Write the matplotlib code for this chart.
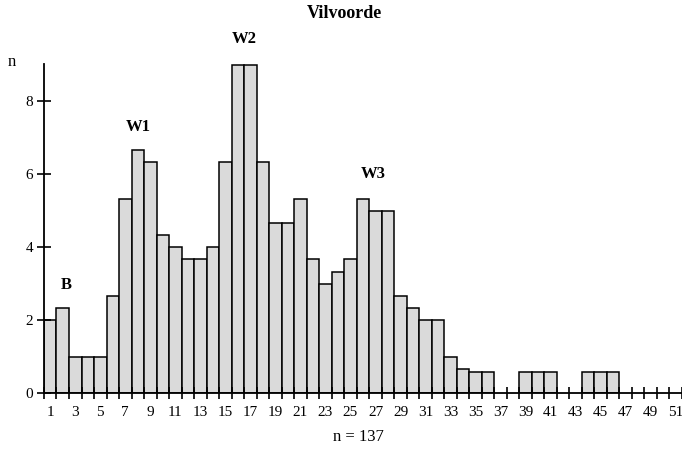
import numpy as np
import matplotlib
matplotlib.use("Agg")
import matplotlib.pyplot as plt

plt.rcParams['font.family'] = ['Liberation Serif', 'DejaVu Serif']

# klassen 1..51 en (gladgestreken) aantallen per klasse
klassen = np.arange(1, 52)
aantal = np.array([
    2.0, 2.33, 1.0, 1.0, 1.0, 2.67, 5.33, 6.67, 6.33, 4.33,
    4.0, 3.67, 3.67, 4.0, 6.33, 9.0, 9.0, 6.33, 4.67, 4.67,
    5.33, 3.67, 3.0, 3.33, 3.67, 5.33, 5.0, 5.0, 2.67, 2.33,
    2.0, 2.0, 1.0, 0.67, 0.58, 0.58, 0.0, 0.0, 0.58, 0.58,
    0.58, 0.0, 0.0, 0.58, 0.58, 0.58, 0.0, 0.0, 0.0, 0.0,
    0.0])

# pieken
piek_labels = ["B", "W1", "W2", "W3"]
piek_x = [2.25, 8.0, 16.5, 26.8]
piek_y = [2.95, 7.3, 9.7, 6.0]

y_ticks = [0, 2, 4, 6, 8]

fig = plt.figure(figsize=(6.82, 4.51), dpi=100)
ax = fig.add_axes([0.0645, 0.1286, 0.9355, 0.7294])

nz = aantal > 0
ax.bar(klassen[nz], aantal[nz], width=1.0, color="#dadada",
       edgecolor="black", linewidth=1.1)

ax.set_xlim(0.5, 51.5)
ax.set_ylim(0, 9.02)

for s in ["top", "right"]:
    ax.spines[s].set_visible(False)
ax.spines["left"].set_linewidth(1.3)
ax.spines["bottom"].set_linewidth(1.3)

# streepjes op de klassegrenzen, labels in het midden
ax.set_xticks(np.arange(0.5, 52, 1.0))
ax.set_xticklabels([])
ax.set_xticks(klassen[::2], minor=True)
ax.set_xticklabels([str(k) for k in klassen[::2]], minor=True)
ax.tick_params(axis="x", which="major", direction="inout", length=9, width=1.2)
ax.tick_params(axis="x", which="minor", length=0, pad=9, labelsize=11)

ax.set_yticks(y_ticks)
ax.tick_params(axis="y", direction="inout", length=10, width=1.2,
               pad=3, labelsize=11)

for lab, x, y in zip(piek_labels, piek_x, piek_y):
    ax.text(x, y, lab, ha="center", va="center", fontsize=12,
            fontweight="bold", clip_on=False)

fig.text(12 / 682, 1 - 62 / 451, "n", ha="center", va="center", fontsize=12)
fig.text(344 / 682, 1 - 13 / 451, "Vilvoorde", ha="center", va="center",
         fontsize=13, fontweight="bold")
fig.text(358 / 682, 1 - 437 / 451, "n = 137", ha="center", va="center",
         fontsize=12)

fig.savefig("out.png", dpi=100)
